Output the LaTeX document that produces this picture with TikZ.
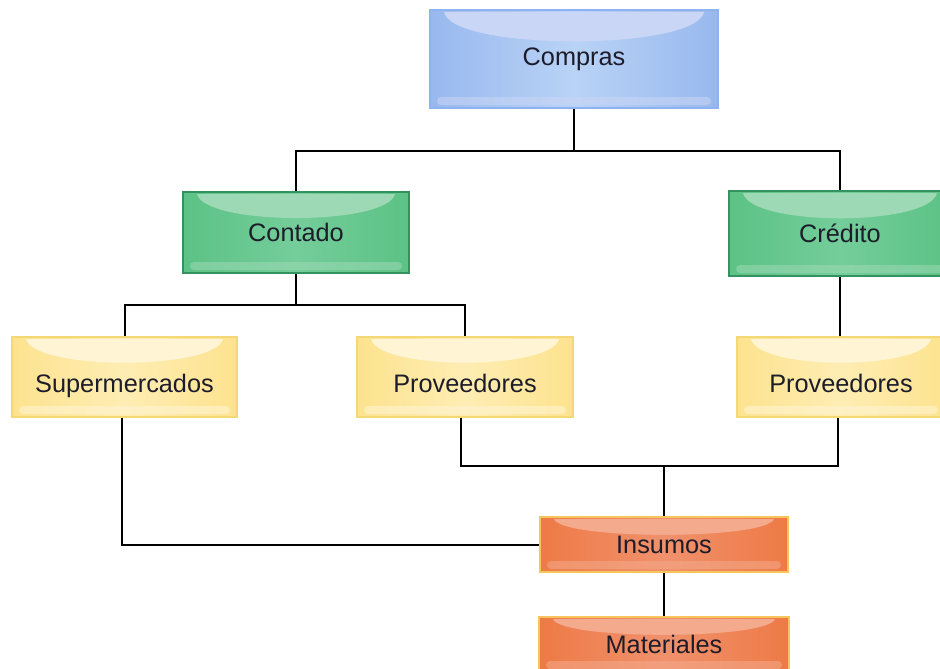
\documentclass[tikz,border=0pt]{standalone}
\usepackage{fontspec}
\setmainfont{Liberation Sans}
\usetikzlibrary{calc,positioning}
\pgfdeclarelayer{background}
\pgfsetlayers{background,main}

\definecolor{bluEdge}{HTML}{98B8EE}
\definecolor{bluMid}{HTML}{B9D3F6}
\definecolor{bluLine}{HTML}{8FB2F0}
\definecolor{bluHi}{HTML}{CAD6F5}
\definecolor{grnEdge}{HTML}{5CC285}
\definecolor{grnMid}{HTML}{74CD9A}
\definecolor{grnLine}{HTML}{33925F}
\definecolor{grnHi}{HTML}{9CD9B4}
\definecolor{ylwEdge}{HTML}{FDE38F}
\definecolor{ylwMid}{HTML}{FEEDB3}
\definecolor{ylwLine}{HTML}{F5D876}
\definecolor{ylwHi}{HTML}{FFF5D5}
\definecolor{orgEdge}{HTML}{EE7A46}
\definecolor{orgMid}{HTML}{F0916C}
\definecolor{orgLine}{HTML}{F8C45C}
\definecolor{orgHi}{HTML}{F4AA8C}
\definecolor{txt}{HTML}{1C1C2A}

\tikzset{
  x=1pt, y=1pt,
  % glossy box: horizontal shading, curved top sheen and a bottom light strip
  glossy/.style n args={4}{
    rectangle, draw=#3, line width=1.3pt,
    left color=#1, right color=#1, middle color=#2,
    text=txt, font=\fontsize{25.3}{29}\selectfont,
    inner sep=0pt, text height=20pt, text depth=2pt,
    path picture={
      \path let \p1=(path picture bounding box.north west),
                \p2=(path picture bounding box.south east),
                \n1={\y1-\y2} in
        [fill=#4]
        (\x1+14pt,\y1-2pt) -- (\x2-14pt,\y1-2pt)
        .. controls (\x2-22pt,\y1-0.42*\n1) and (\x1+22pt,\y1-0.42*\n1) .. cycle;
      \path let \p1=(path picture bounding box.north west),
                \p2=(path picture bounding box.south east) in
        [fill=#4, fill opacity=0.55, rounded corners=4pt]
        (\x1+7pt,\y2+3pt) rectangle (\x2-7pt,\y2+11pt);
    }
  },
  topbox/.style={glossy={bluEdge}{bluMid}{bluLine}{bluHi}, text height=18pt, text depth=4pt},
  midbox/.style={glossy={grnEdge}{grnMid}{grnLine}{grnHi}},
  leafbox/.style={glossy={ylwEdge}{ylwMid}{ylwLine}{ylwHi}, text height=32pt, text depth=2pt},
  endbox/.style={glossy={orgEdge}{orgMid}{orgLine}{orgHi}},
  link/.style={draw=black, line width=2pt}
}

\begin{document}
\begin{tikzpicture}
\clip (0,0) rectangle (940,-669);

\node[topbox, minimum width=288pt, minimum height=98pt] (compras) at (574,-59) {Compras};

\node[midbox, minimum width=226pt, minimum height=81pt] (contado) at (296,-232.5) {Contado};
\node[midbox, minimum width=222pt, minimum height=85pt] (credito) at (840,-233.5) {Crédito};

\node[leafbox, minimum width=225pt, minimum height=80pt] (super) at (124.5,-377) {Supermercados};
\node[leafbox, minimum width=216pt, minimum height=80pt] (prova) at (465,-377) {Proveedores};
\node[leafbox, minimum width=208pt, minimum height=80pt] (provb) at (841,-377) {Proveedores};

\node[endbox, minimum width=248pt, minimum height=55pt] (insumos) at (664,-544.5) {Insumos};
\node[endbox, minimum width=250pt, minimum height=55pt] (materiales) at (664,-644.5) {Materiales};

\coordinate (split1) at ($(compras.south)+(0,-42)$);
\coordinate (split2) at ($(contado.south)+(0,-31)$);
\coordinate (joint) at (insumos.north |- 0,-466);

\begin{pgfonlayer}{background}
  \draw[link] (compras.south) -- (split1) -| (contado.north);
  \draw[link] (split1) -| (credito.north);
  \draw[link] (contado.south) -- (split2) -| (super.north);
  \draw[link] (split2) -| (prova.north);
  \draw[link] (credito.south) -- (credito.south |- provb.north);
  \draw[link] ([xshift=-3pt]super.south) |- (insumos.west);
  \draw[link] ([xshift=-4pt]prova.south) |- (joint) -| ([xshift=-3pt]provb.south);
  \draw[link] (joint) -- (insumos.north);
  \draw[link] (insumos.south) -- (materiales.north);
\end{pgfonlayer}
\end{tikzpicture}
\end{document}
